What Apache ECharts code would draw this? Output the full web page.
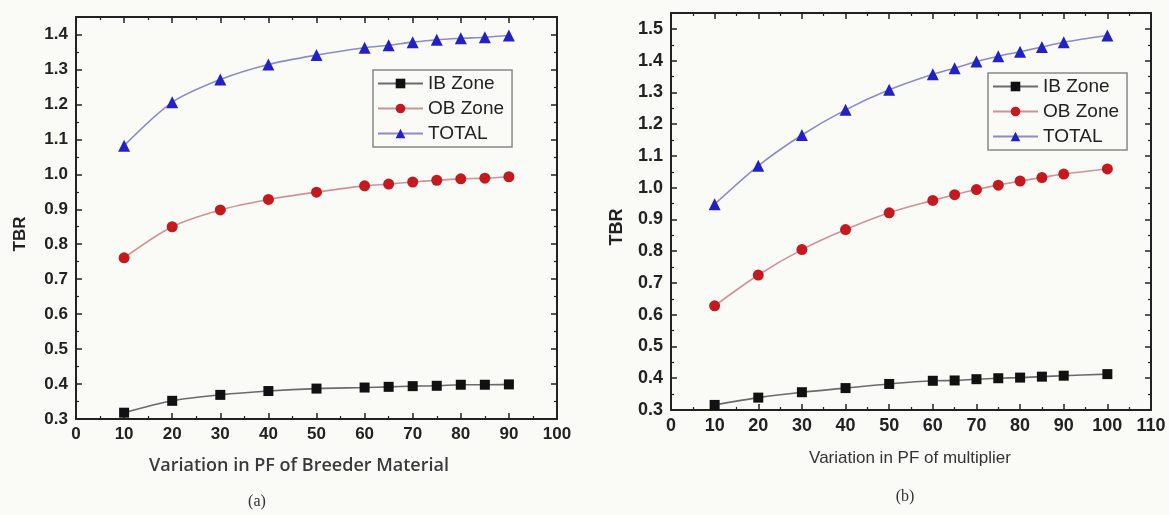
<!DOCTYPE html>
<html>
<head>
<meta charset="utf-8">
<script src="https://cdn.jsdelivr.net/npm/echarts@6/dist/echarts.min.js"></script>
<style>
  html, body { margin: 0; padding: 0; background: #fafaf7; }
  #main { width: 1169px; height: 515px; }
</style>
</head>
<body>
<div id="main"></div>
<script>
// (a) PF of breeder material
const xA = [10, 20, 30, 40, 50, 60, 65, 70, 75, 80, 85, 90]
const ibA = [0.318, 0.352, 0.369, 0.380, 0.387, 0.390, 0.392, 0.394, 0.395, 0.398, 0.398, 0.399]
const obA = [0.761, 0.850, 0.898, 0.928, 0.949, 0.967, 0.972, 0.978, 0.983, 0.987, 0.989, 0.993]
const totA = [1.082, 1.206, 1.271, 1.314, 1.341, 1.362, 1.369, 1.378, 1.385, 1.389, 1.392, 1.397]

// (b) PF of multiplier
const xB = [10, 20, 30, 40, 50, 60, 65, 70, 75, 80, 85, 90, 100]
const ibB = [0.316, 0.339, 0.356, 0.369, 0.382, 0.392, 0.393, 0.397, 0.400, 0.402, 0.405, 0.408, 0.413]
const obB = [0.628, 0.725, 0.805, 0.868, 0.921, 0.960, 0.978, 0.994, 1.008, 1.021, 1.032, 1.043, 1.059]
const totB = [0.948, 1.069, 1.166, 1.245, 1.308, 1.357, 1.376, 1.397, 1.414, 1.428, 1.443, 1.458, 1.479]

const names = ['IB Zone', 'OB Zone', 'TOTAL']

const pairs = (xs, ys) => xs.map((x, i) => [x, ys[i]])

const axisLine = { show: true, onZero: false, lineStyle: { color: '#222', width: 2 } }
const tick = { show: true, inside: true, length: 6, lineStyle: { color: '#222', width: 1.5 } }
const minor = { show: true, splitNumber: 2, length: 3, lineStyle: { color: '#222', width: 1.2 } }

function xAxes(grid, max, fs) {
  return [
    {
      gridIndex: grid, type: 'value', min: 0, max: max, interval: 10, position: 'bottom',
      axisLine: axisLine, axisTick: tick, minorTick: minor, splitLine: { show: false },
      axisLabel: { margin: 7, color: '#222', fontSize: fs, fontWeight: 'bold', fontFamily: 'Liberation Sans' }
    },
    {
      gridIndex: grid, type: 'value', min: 0, max: max, interval: 10, position: 'top',
      axisLine: axisLine, axisTick: tick, minorTick: minor, splitLine: { show: false },
      axisLabel: { show: false }
    }
  ]
}

function yAxes(grid, max, fs) {
  return [
    {
      gridIndex: grid, type: 'value', min: 0.3, max: max, interval: 0.1, position: 'left',
      axisLine: axisLine, axisTick: tick, minorTick: minor, splitLine: { show: false },
      axisLabel: {
        margin: 8, color: '#222', fontSize: fs, fontWeight: 'bold', fontFamily: 'Liberation Sans',
        showMaxLabel: false, formatter: v => v.toFixed(1)
      }
    },
    {
      gridIndex: grid, type: 'value', min: 0.3, max: max, interval: 0.1, position: 'right',
      axisLine: axisLine, axisTick: tick, minorTick: minor, splitLine: { show: false },
      axisLabel: { show: false }
    }
  ]
}

const styles = [
  { symbol: 'rect', size: 10, color: '#111', line: '#6a6a6a' },
  { symbol: 'circle', size: 11, color: '#c41a1f', line: '#cf9298' },
  { symbol: 'triangle', size: 12, color: '#2222c4', line: '#8c8cc8' }
]

function makeSeries(grid, xs, lists) {
  return lists.map((ys, i) => ({
    name: names[i],
    type: 'line',
    xAxisIndex: grid * 2,
    yAxisIndex: grid * 2,
    data: pairs(xs, ys),
    smooth: 0.3,
    symbol: styles[i].symbol,
    symbolSize: styles[i].size,
    itemStyle: { color: styles[i].color },
    lineStyle: { color: styles[i].line, width: 1.6 },
    z: 3 + i
  }))
}

function legend(left, top) {
  return {
    data: names,
    orient: 'vertical',
    left: left,
    top: top,
    itemWidth: 45,
    itemHeight: 12,
    itemGap: 6,
    padding: [4, 8, 4, 4],
    borderColor: '#888',
    borderWidth: 1.5,
    selectedMode: false,
    textStyle: { fontSize: 19, color: '#222', fontFamily: 'Liberation Sans' }
  }
}

const chart = echarts.init(document.getElementById('main'))
chart.setOption({
  backgroundColor: '#fafaf7',
  animation: false,
  grid: [
    { left: 76, top: 17, width: 481, height: 402 },
    { left: 671, top: 13, width: 480, height: 397 }
  ],
  xAxis: [...xAxes(0, 100, 17), ...xAxes(1, 110, 18)],
  yAxis: [...yAxes(0, 1.45, 17), ...yAxes(1, 1.55, 18)],
  legend: [legend(373, 70), legend(988, 73)],
  series: [...makeSeries(0, xA, [ibA, obA, totA]), ...makeSeries(1, xB, [ibB, obB, totB])],
  graphic: [
    { type: 'text', x: 20, y: 234, rotation: Math.PI / 2,
      style: { text: 'TBR', font: 'bold 17px "Liberation Sans"', fill: '#222', textAlign: 'center', textVerticalAlign: 'middle' } },
    { type: 'text', x: 617, y: 227, rotation: Math.PI / 2,
      style: { text: 'TBR', font: 'bold 18px "Liberation Sans"', fill: '#222', textAlign: 'center', textVerticalAlign: 'middle' } },
    { type: 'text', x: 299, y: 466,
      style: { text: 'Variation in PF of Breeder Material', font: '600 18px "Open Sans"', fill: '#3a3a3a', textAlign: 'center', textVerticalAlign: 'middle' } },
    { type: 'text', x: 910, y: 458,
      style: { text: 'Variation in PF of multiplier', font: '17px "Liberation Sans"', fill: '#333', textAlign: 'center', textVerticalAlign: 'middle' } },
    { type: 'text', x: 257, y: 502,
      style: { text: '(a)', font: '16px "Liberation Serif"', fill: '#333', textAlign: 'center', textVerticalAlign: 'middle' } },
    { type: 'text', x: 905, y: 497,
      style: { text: '(b)', font: '16px "Liberation Serif"', fill: '#333', textAlign: 'center', textVerticalAlign: 'middle' } }
  ]
})
</script>
</body>
</html>
